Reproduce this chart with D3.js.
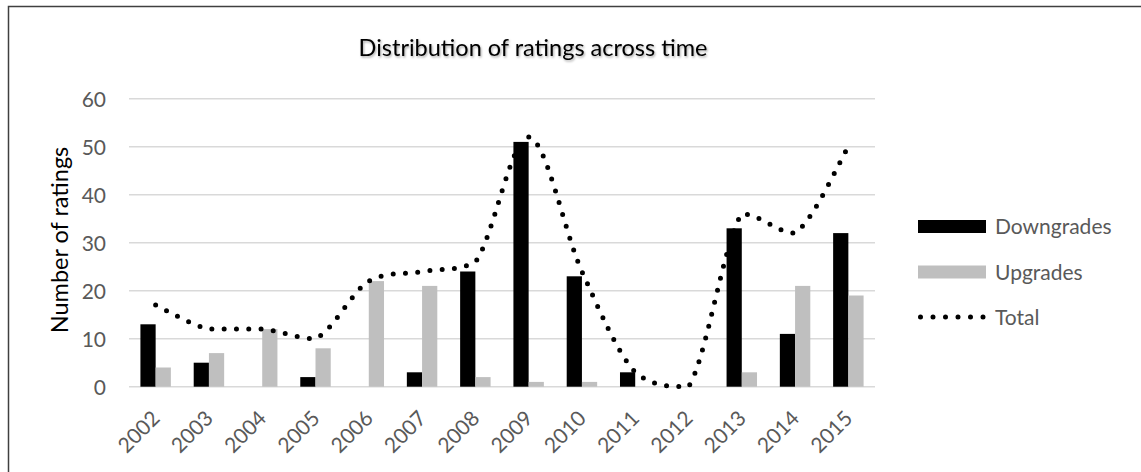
<!DOCTYPE html>
<html>
<head>
<meta charset="utf-8">
<script src="https://cdn.jsdelivr.net/npm/d3@7"></script>
<style>
  html, body { margin: 0; padding: 0; background: #fff; }
  svg { display: block; font-family: Lato, "Open Sans", sans-serif; }
</style>
</head>
<body>
<svg id="chart" width="1141" height="472"></svg>
<script>
// Ratings per year
const years = ["2002","2003","2004","2005","2006","2007","2008","2009","2010","2011","2012","2013","2014","2015"];
const downgrades = [13, 5, 0, 2, 0, 3, 24, 51, 23, 3, 0, 33, 11, 32];
const upgrades   = [4, 7, 12, 8, 22, 21, 2, 1, 1, 0, 0, 3, 21, 19];
const totals     = [17, 12, 12, 10, 22, 24, 26, 52, 24, 3, 0, 36, 32, 50];
const yTicks = [0, 10, 20, 30, 40, 50, 60];
const seriesNames = ["Downgrades", "Upgrades", "Total"];

const svg = d3.select("#chart");
const W = 1141, H = 472;
const plot = { left: 129, right: 875, top: 98.7, bottom: 386.7 };

// soft shadow under the title
const defs = svg.append("defs");
const f = defs.append("filter").attr("id", "titleShadow")
  .attr("x", "-5%").attr("y", "-30%").attr("width", "110%").attr("height", "160%");
f.append("feDropShadow").attr("dx", 1).attr("dy", 1.5).attr("stdDeviation", 1)
  .attr("flood-color", "#000").attr("flood-opacity", 0.35);

// chart frame (left and top edges)
svg.append("path")
  .attr("d", `M8.5,${H} V6.5 H${W}`)
  .attr("fill", "none").attr("stroke", "#404040").attr("stroke-width", 1.5);

const x = d3.scaleBand().domain(years).range([plot.left, plot.right]).padding(0);
const y = d3.scaleLinear().domain([0, 60]).range([plot.bottom, plot.top]);

// two bars per year, gap width 150%
const barW = x.bandwidth() / 3.5;
const sub = d3.scaleBand().domain(["d", "u"])
  .range([x.bandwidth() / 2 - barW, x.bandwidth() / 2 + barW]).padding(0);

// gridlines
svg.append("g")
  .selectAll("line").data(yTicks).join("line")
  .attr("x1", plot.left).attr("x2", plot.right)
  .attr("y1", d => y(d)).attr("y2", d => y(d))
  .attr("stroke", "#d9d9d9").attr("stroke-width", 1.5);

// y axis labels
const yAxis = d3.axisLeft(y).tickValues(yTicks).tickSize(0).tickPadding(0);
const gy = svg.append("g").attr("transform", "translate(106,0)").call(yAxis);
gy.select(".domain").remove();
gy.selectAll("text")
  .attr("fill", "#595959").attr("font-size", 21).attr("font-family", "Lato")
  .attr("dy", "0.36em");

// x axis labels, rotated
const xAxis = d3.axisBottom(x).tickSize(0).tickPadding(0);
const gx = svg.append("g").attr("transform", `translate(0,${plot.bottom})`).call(xAxis);
gx.select(".domain").remove();
gx.selectAll("text")
  .attr("fill", "#595959").attr("font-size", 21).attr("font-family", "Lato")
  .attr("text-anchor", "end")
  .attr("y", 0).attr("dy", 0)
  .attr("transform", "translate(5.5,33) rotate(-45)");

// bars
const rows = years.map((yr, i) => ({ yr, d: downgrades[i], u: upgrades[i], t: totals[i] }));
svg.append("g").selectAll("rect").data(rows).join("rect")
  .attr("x", r => x(r.yr) + sub("d")).attr("width", sub.bandwidth())
  .attr("y", r => y(r.d)).attr("height", r => y(0) - y(r.d))
  .attr("fill", "#000");
svg.append("g").selectAll("rect").data(rows).join("rect")
  .attr("x", r => x(r.yr) + sub("u")).attr("width", sub.bandwidth())
  .attr("y", r => y(r.u)).attr("height", r => y(0) - y(r.u))
  .attr("fill", "#bfbfbf");

// Smoothed path: Catmull-Rom style Bezier segments whose control points
// are kept within the vertical span of their own segment (no overshoot).
function smoothPath(pts) {
  const p = d3.path();
  p.moveTo(pts[0][0], pts[0][1]);
  for (let i = 0; i < pts.length - 1; i++) {
    const p0 = pts[Math.max(i - 1, 0)], p1 = pts[i], p2 = pts[i + 1],
          p3 = pts[Math.min(i + 2, pts.length - 1)];
    const lo = Math.min(p1[1], p2[1]), hi = Math.max(p1[1], p2[1]);
    const clamp = v => Math.max(lo, Math.min(hi, v));
    const c1 = [p1[0] + (p2[0] - p0[0]) / 6, clamp(p1[1] + (p2[1] - p0[1]) / 6)];
    const c2 = [p2[0] - (p3[0] - p1[0]) / 6, clamp(p2[1] - (p3[1] - p1[1]) / 6)];
    p.bezierCurveTo(c1[0], c1[1], c2[0], c2[1], p2[0], p2[1]);
  }
  return p.toString();
}

const totalPts = rows.map(r => [x(r.yr) + x.bandwidth() / 2, y(r.t)]);
svg.append("path")
  .attr("d", smoothPath(totalPts))
  .attr("fill", "none").attr("stroke", "#000")
  .attr("stroke-width", 5).attr("stroke-linecap", "round")
  .attr("stroke-dasharray", "0 12.3");

// title
svg.append("text")
  .attr("x", 533).attr("y", 56)
  .attr("text-anchor", "middle")
  .attr("font-size", 23.5).attr("fill", "#000")
  .attr("filter", "url(#titleShadow)")
  .text("Distribution of ratings across time");

// y axis title
svg.append("text")
  .attr("transform", "translate(68,240) rotate(-90)")
  .attr("text-anchor", "middle")
  .attr("font-size", 23.5).attr("fill", "#000")
  .text("Number of ratings");

// legend
const legendY = [226.5, 272, 317];
const lg = svg.append("g");
seriesNames.forEach((name, i) => {
  const cy = legendY[i];
  if (i < 2) {
    lg.append("rect")
      .attr("x", 918).attr("y", cy - 6.5).attr("width", 68).attr("height", 13)
      .attr("fill", i === 0 ? "#000" : "#bfbfbf");
  } else {
    lg.append("line")
      .attr("x1", 920.5).attr("x2", 986).attr("y1", cy).attr("y2", cy)
      .attr("stroke", "#000").attr("stroke-width", 5)
      .attr("stroke-linecap", "round").attr("stroke-dasharray", "0 12.5");
  }
  lg.append("text")
    .attr("x", 995).attr("y", cy + 7.5)
    .attr("font-size", 21).attr("fill", "#595959")
    .text(name);
});
</script>
</body>
</html>
